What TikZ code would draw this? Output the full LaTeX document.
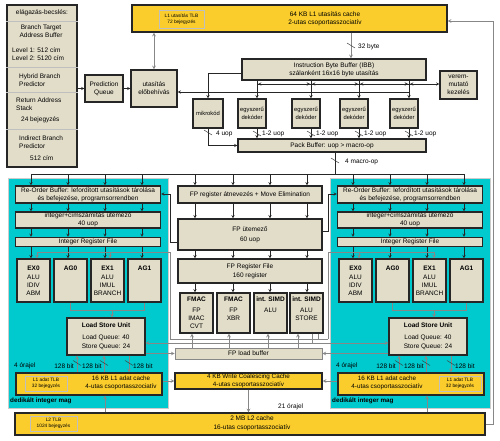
\documentclass[tikz,border=0pt]{standalone}
\usepackage{fontspec}
\setmainfont{Liberation Sans}
\usepackage{tikz}
\usetikzlibrary{arrows,positioning}
\definecolor{boxtan}{RGB}{226,221,201}
\definecolor{cachegold}{RGB}{250,205,45}
\definecolor{coreteal}{RGB}{0,202,206}
\definecolor{wiregray}{RGB}{135,135,135}

\begin{document}
\begin{tikzpicture}[
x=1pt, y=-1pt,
font=\fontsize{6.5}{8}\selectfont,
blk/.style={draw=black!85, line width=1.2pt, fill=boxtan, inner sep=0pt, align=center},
cachebox/.style={draw=black!85, line width=1.2pt, fill=cachegold, inner sep=0pt, align=center},
tlbbox/.style={draw=black!25, line width=0.6pt, fill=cachegold, inner sep=0pt, align=center, font=\fontsize{4.8}{6}\selectfont},
note/.style={inner sep=0pt, align=center},
smallfont/.style={font=\fontsize{5.8}{7.5}\selectfont},
wire/.style={->, >=stealth, line width=0.5pt, black!85},
graywire/.style={->, >=stealth, line width=0.7pt, wiregray},
slashmark/.style={line width=0.5pt, black!75}
]
\useasboundingbox (0,0) rectangle (500,441);

% elagazas-becsles
\node[blk, minimum width=70, minimum height=162] (BP) at (42,86) {};
\foreach \y in {21,67,92,129}
  \draw[black!25, line width=0.6pt] (BP.west |- 0,\y) -- (BP.east |- 0,\y);
\node[note] (BPhead) at (42,13) {elágazás-becslés:};
\node[note] (BTB) at (41,31) {Branch Target\\Address Buffer};
\node[note, anchor=west, align=left] (BTBlvl) at (12,54) {Level 1: 512 cím\\Level 2: 5120 cím};
\node[note, anchor=west, align=left] (HBP) at (19,80) {Hybrid Branch\\Predictor};
\node[note, anchor=west, align=left] (RAS) at (16,104) {Return Address\\Stack};
\node[note, anchor=west] (RAScnt) at (21,120) {24 bejegyzés};
\node[note, anchor=west, align=left] (IBP) at (19,142) {Indirect Branch\\Predictor};
\node[note, anchor=west] (IBPcnt) at (30,158) {512 cím};

% front end
\node[blk, minimum width=38, minimum height=27] (PQ) at (104,88.5) {Prediction\\Queue};
\node[blk, minimum width=46, minimum height=37] (PF) at (154,88.5) {utasítás\\előbehívás};
\node[cachebox, minimum width=315, minimum height=27] (L1I) at (289.5,18.5) {};
\node[tlbbox, minimum width=45, minimum height=18] (ITLB) at (181.5,19) {L1 utasítás TLB\\72 bejegyzés};
\node[note] (L1Itxt) at (325,18.5) {64 KB L1 utasítás cache\\2-utas csoportasszociatív};
\node[blk, minimum width=184, minimum height=21] (IBB) at (334,69.5) {Instruction Byte Buffer (IBB)\\szálanként 16x16 byte utasítás};
\node[blk, minimum width=37, minimum height=28] (SP) at (458.5,85) {verem-\\mutató\\kezelés};
\node[blk, smallfont, minimum width=30, minimum height=29] (MC) at (208,113.5) {mikrokód};
\foreach \n/\x in {1/252,2/306,3/354,4/404}
  \node[blk, smallfont, minimum width=28, minimum height=29] (D\n) at (\x,113.5) {egyszerű\\dekóder};
\node[blk, minimum width=188, minimum height=13] (PB) at (332,145.5) {Pack Buffer: uop > macro-op};

\draw[wire] (BP.east |- PQ.west) -- (PQ.west);
\draw[wire] (PQ.east) -- (PF.west);
\draw[graywire, <->] (PF.north) -- (PF.north |- L1I.south);
\draw[graywire] (L1I.south -| 351,0) -- (IBB.north -| 351,0);
\draw[slashmark] (347,43) -- (355,48);
\node[note, anchor=west] (w32) at (358,47) {32 byte};

\draw[wire] (IBB.west |- 0,73) -| (MC.north);
\foreach \n/\x in {1/257,2/311,3/359,4/409}{
  \draw[wire] (IBB.south -| \x,0) -- (D\n.north -| \x,0);
  \draw[wire] (D\n.south -| \x,0) -- (PB.north -| \x,0);
  \draw[slashmark] (\x-4,131) -- (\x+4,136);
  \node[note, anchor=west] (u\n) at (\x+5,134) {1-2 uop};
}
\draw[wire] (257,84) -- (SP.west |- 0,84);
\foreach \x in {257,311,359,409} \draw[wire] (\x+7,84) -- (\x+1,84);
\foreach \x in {311,359,409} \draw[wire] (\x-7,84) -- (\x-1,84);
\draw[wire] (409,92) -- (PF.east |- 0,92);
\draw[wire] (MC.south) |- (PB.west);
\draw[slashmark] (204,130) -- (212,135);
\node[note, anchor=west] (u4) at (216,134) {4 uop};

\draw[wire, -] (PB.south -| 335,0) -- (335,174);
\draw[slashmark] (331,158) -- (339,163);
\node[note, anchor=west] (mop) at (345,162) {4 macro-op};
\draw[wire, -] (31,174) -- (464,174);

% dedikalt integer magok
\foreach \s/\dx/\tlbx/\txtx in {L/0/46/121, R/322/138/65}{
\begin{scope}[xshift=\dx]
  \fill [draw=black!20, fill=coreteal] (8,178) rectangle (168,408);
  \node[blk, minimum width=145, minimum height=17] (ROB\s) at (88,194.5) {Re-Order Buffer: lefordított utasítások tárolása\\és befejezése, programsorrendben};
  \node[blk, minimum width=145, minimum height=16] (SCH\s) at (88,220) {integer+címszámítás ütemező\\40 uop};
  \node[blk, minimum width=145, minimum height=9] (IRF\s) at (88,242) {Integer Register File};
  \node[blk, minimum width=33, minimum height=43] (EU\s1) at (33.5,280.5) {\textbf{EX0}\\[1pt]ALU\\IDIV\\ABM};
  \node[blk, minimum width=33, minimum height=43] (EU\s2) at (70.5,280.5) {\textbf{AG0}\\[1pt]\mbox{}\\\mbox{}\\\mbox{}};
  \node[blk, minimum width=33, minimum height=43] (EU\s3) at (107.5,280.5) {\textbf{EX1}\\[1pt]ALU\\IMUL\\BRANCH};
  \node[blk, minimum width=33, minimum height=43] (EU\s4) at (144.5,280.5) {\textbf{AG1}\\[1pt]\mbox{}\\\mbox{}\\\mbox{}};
  \node[blk, minimum width=78, minimum height=37] (LSU\s) at (106,336.5) {\textbf{Load Store Unit}\\[4pt]Load Queue: 40\\[1pt]Store Queue: 24};
  \node[cachebox, minimum width=146, minimum height=22] (L1D\s) at (89,384) {};
  \node[tlbbox, minimum width=42, minimum height=15] (DTLB\s) at (\tlbx,383.5) {L1 adat TLB\\32 bejegyzés};
  \node[note, font=\fontsize{6.3}{7.5}\selectfont] (L1Dtxt\s) at (\txtx,383) {16 KB L1 adat cache\\4-utas csoportasszociatív};

  \foreach \x in {31,68,105,142}{
    \draw[wire] (\x,174) -- (ROB\s.north -| \x,0);
    \draw[wire] (ROB\s.south -| \x,0) -- (SCH\s.north -| \x,0);
    \draw[wire] (SCH\s.south -| \x,0) -- (IRF\s.north -| \x,0);
  }
  \foreach \x/\k in {31/1,68/2,105/3,142/4}
    \draw[wire] (IRF\s.south -| \x,0) -- (EU\s\k.north -| \x,0);
  \draw[graywire, -] (EU\s2.south) |- (EU\s4.south |- 0,310) -- (EU\s4.south);
  \draw[graywire] (112,310) -- (LSU\s.north -| 112,0);

  \draw[graywire] (L1D\s.north -| 77,0) -- (LSU\s.south -| 77,0);
  \draw[graywire] (L1D\s.north -| 104,0) -- (LSU\s.south -| 104,0);
  \draw[graywire] (LSU\s.south -| 129,0) -- (L1D\s.north -| 129,0);
  \foreach \x in {77,104,129} \draw[slashmark] (\x-4,360.5) -- (\x+4,365.5);
  \node[note, anchor=west] (clk\s) at (14,366) {4 órajel};
  \node[note, anchor=east] (bw\s1) at (74,366) {128 bit};
  \node[note, anchor=west] (bw\s2) at (82,366) {128 bit};
  \node[note, anchor=west] (bw\s3) at (133,366) {128 bit};
  \node[note, anchor=west, font=\fontsize{6.3}{8}\selectfont\bfseries] (core\s) at (10,401) {dedikált integer mag};
\end{scope}
}

% FP egyseg
\node[blk, minimum width=144, minimum height=17] (FPR) at (250,194.5) {FP register átnevezés + Move Elimination};
\node[blk, minimum width=144, minimum height=31] (FPS) at (250,234.5) {FP ütemező\\[2pt]60 uop};
\node[blk, minimum width=144, minimum height=24] (FPRF) at (250,271) {FP Register File\\[1pt]160 register};
\node[blk, minimum width=33, minimum height=40] (FPU1) at (196.5,313) {\textbf{FMAC}\\[3pt]FP\\IMAC\\CVT};
\node[blk, minimum width=33, minimum height=40] (FPU2) at (233.5,313) {\textbf{FMAC}\\[3pt]FP\\XBR\\\mbox{}};
\node[blk, minimum width=33, minimum height=40] (FPU3) at (270.5,313) {\textbf{int. SIMD}\\[3pt]ALU\\\mbox{}\\\mbox{}};
\node[blk, minimum width=33, minimum height=40] (FPU4) at (306.5,313) {\textbf{int. SIMD}\\[3pt]ALU\\STORE\\\mbox{}};
\node[blk, draw=wiregray, line width=0.6pt, minimum width=147, minimum height=11] (FPLB) at (248.5,353.5) {FP load buffer};

\foreach \x/\k in {195/1,233/2,270/3,307/4}{
  \draw[wire] (\x,174) -- (FPR.north -| \x,0);
  \draw[wire] (FPR.south -| \x,0) -- (FPS.north -| \x,0);
  \draw[wire] (FPS.south -| \x,0) -- (FPRF.north -| \x,0);
  \draw[wire] (FPRF.south -| \x,0) -- (FPU\k.north -| \x,0);
}
\foreach \x/\k in {192/1,229/2,268/3,298/4}
  \draw[graywire] (FPLB.north -| \x,0) -- (FPU\k.south -| \x,0);

\draw[wire] (FPS.west |- 0,242) -- (170,242) -- (170,194) -- (ROBL.east |- 0,194);
\draw[wire] (FPS.east |- 0,231) -- (328,231) -- (328,194) -- (ROBR.west |- 0,194);

% FP -> integer, store, load
\draw[graywire, -] (FPU4.south -| 318,0) -- (318,339);
\draw[graywire, -] (170,339) -- (328,339);
\draw[graywire, -] (170,339) -- (170,252) -- (37,252);
\draw[graywire] (110,252) -- (EUL3.north -| 110,0);
\draw[graywire] (37,252) -- (EUL1.north -| 37,0);
\draw[graywire, -] (328,339) -- (328,252) -- (434,252);
\draw[graywire] (359,252) -- (EUR1.north -| 359,0);
\draw[graywire] (434,252) -- (EUR3.north -| 434,0);
\draw[graywire, -] (FPU4.south -| 312,0) -- (312,343);
\draw[graywire] (312,343) -- (LSUL.east |- 0,343);
\draw[graywire] (312,343) -- (LSUR.west |- 0,343);
\draw[graywire] (LSUL.east |- FPLB.west) -- (FPLB.west);
\draw[graywire] (LSUR.west |- FPLB.east) -- (FPLB.east);

% cache
\node[cachebox, font=\fontsize{6.3}{7.5}\selectfont, minimum width=147, minimum height=16] (WCC) at (248.5,381) {4 KB Write Coalescing Cache\\4-utas csoportasszociatív};
\node[cachebox, minimum width=470, minimum height=22] (L2) at (250,424) {};
\node[tlbbox, minimum width=47, minimum height=15] (L2TLB) at (53.5,423.5) {L2 TLB\\1024 bejegyzés};
\node[note] (L2txt) at (252,423.5) {2 MB L2 cache\\[1.5pt]16-utas csoportasszociatív};

\draw[graywire] (L1DL.east |- WCC.west) -- (WCC.west);
\draw[graywire] (L1DR.west |- WCC.east) -- (WCC.east);
\draw[graywire] (WCC.south) -- (WCC.south |- L2.north);
\node[note, anchor=west] (lat21) at (278,407) {21 órajel};
\draw[graywire] (L2.north -| 105,0) -- (L1DL.south -| 105,0);
\draw[graywire] (L2.north -| 427,0) -- (L1DR.south -| 427,0);
\draw[graywire] (L2.east) -- (493,424) -- (493,21) -- (L1I.east |- 0,21);

\end{tikzpicture}
\end{document}
